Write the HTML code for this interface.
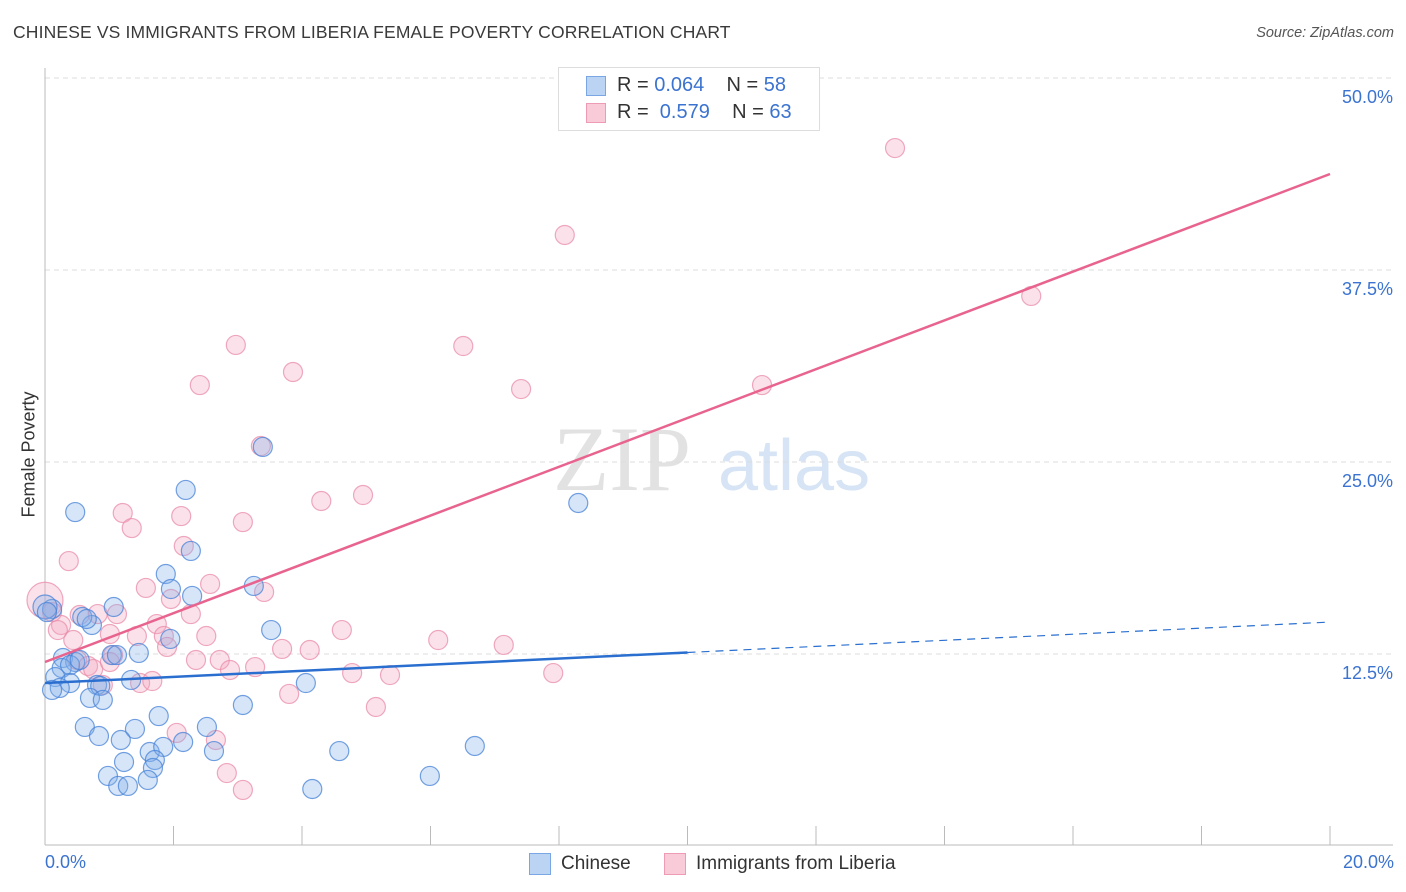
<!DOCTYPE html>
<html><head><meta charset="utf-8"><style>
body{margin:0;background:#fff;font-family:"Liberation Sans",sans-serif;}
#wrap{position:relative;width:1406px;height:892px;overflow:hidden;}
.t{position:absolute;white-space:nowrap;}
</style></head><body>
<div id="wrap">
<div class="t" style="left:13px;top:22px;font-size:17.5px;color:#3a3a3a;letter-spacing:0.15px;">CHINESE VS IMMIGRANTS FROM LIBERIA FEMALE POVERTY CORRELATION CHART</div>
<div class="t" style="right:12px;top:25px;font-size:14.5px;color:#555;font-style:italic;">Source: ZipAtlas.com</div>
<svg id="svg" width="1406" height="892" style="position:absolute;left:0;top:0"></svg>
<div style="position:absolute;left:558px;top:67px;width:260px;height:62px;border:1px solid #ddd;background:#fff;">
 <div style="position:absolute;left:27px;top:8px;width:20px;height:20px;background:#bcd4f4;border:1px solid #7aa6e4;box-sizing:border-box"></div>
 <div style="position:absolute;left:27px;top:35px;width:20px;height:20px;background:#f9cad8;border:1px solid #ee9bb5;box-sizing:border-box"></div>
 <div class="t" style="left:58px;top:6px;font-size:20px;color:#333">R = <span style="color:#3b73d0">0.064</span>&nbsp;&nbsp;&nbsp; N = <span style="color:#3b73d0">58</span></div>
 <div class="t" style="left:58px;top:33px;font-size:20px;color:#333">R = &nbsp;<span style="color:#3b73d0">0.579</span>&nbsp;&nbsp;&nbsp; N = <span style="color:#3b73d0">63</span></div>
</div>
<div class="t" style="left:-34px;top:444px;font-size:18px;color:#333;transform:rotate(-90deg);">Female Poverty</div>
<div class="t" style="left:45px;top:852px;font-size:18px;color:#3b73d0">0.0%</div>
<div class="t" style="right:12px;top:852px;font-size:18px;color:#3b73d0">20.0%</div>
<div style="position:absolute;left:529px;top:853px;width:22px;height:22px;background:#bcd4f4;border:1px solid #7aa6e4;box-sizing:border-box"></div>
<div class="t" style="left:561px;top:853px;font-size:19px;color:#333">Chinese</div>
<div style="position:absolute;left:664px;top:853px;width:22px;height:22px;background:#f9cad8;border:1px solid #ee9bb5;box-sizing:border-box"></div>
<div class="t" style="left:696px;top:853px;font-size:19px;color:#333">Immigrants from Liberia</div>
</div>
<script>
const yTicks=[12.5,25,37.5,50];
const yTickLabels=["12.5%","25.0%","37.5%","50.0%"];
const chineseX=[0.47,2.19,2.27,1.88,1.96,2.29,3.25,3.39,8.30,1.07,0.73,0.58,0.11,0.28,0.47,0.26,0.39,0.16,0.39,0.23,0.11,0.54,1.04,1.12,1.46,1.95,3.52,0.81,0.86,1.34,0.70,0.90,3.08,4.06,1.77,0.62,0.84,1.40,1.18,2.52,1.63,1.84,2.15,2.63,1.71,1.68,1.23,0.98,1.60,1.14,1.29,4.16,4.58,5.99,6.69,0,0.03,0.65];
const chineseY=[21.74,23.18,19.21,17.71,16.73,16.28,16.93,25.98,22.33,15.56,14.39,14.91,15.43,12.24,11.98,11.59,11.78,11.00,10.61,10.29,10.16,12.11,12.43,12.43,12.57,13.48,14.06,10.48,10.42,10.81,9.64,9.51,9.18,10.61,8.46,7.75,7.16,7.62,6.90,7.75,6.12,6.45,6.77,6.18,5.60,5.08,5.47,4.56,4.30,3.91,3.91,3.71,6.18,4.56,6.51,15.56,15.23,14.78];
const liberiaX=[13.23,8.09,15.35,6.51,2.97,3.86,7.41,11.16,2.41,3.36,4.95,4.30,3.08,2.12,1.21,1.35,0.37,2.16,2.57,1.57,1.96,3.41,0,0.11,0.54,0.82,1.12,2.27,1.74,0.25,0.20,1.01,1.43,1.85,2.51,4.62,6.12,7.14,0.44,1.90,3.69,4.12,0.50,0.67,1.06,2.35,2.72,3.27,2.88,4.78,5.37,7.91,0.75,0.90,1.48,1.67,3.80,5.15,2.05,2.66,2.83,3.08,1.01];
const liberiaY=[45.44,39.78,35.81,32.55,32.62,30.86,29.75,30.01,30.01,26.04,22.85,22.46,21.09,21.48,21.68,20.70,18.55,19.53,17.06,16.80,16.08,16.54,16.0,15.23,15.04,15.10,15.10,15.10,14.45,14.39,14.06,13.80,13.67,13.67,13.67,14.06,13.41,13.09,13.41,12.96,12.83,12.76,12.11,11.72,12.43,12.11,12.11,11.65,11.46,11.26,11.13,11.26,11.52,10.48,10.61,10.74,9.90,9.05,7.36,6.90,4.75,3.65,11.98];
const chineseTrend=[10.61,12.6,14.58]; // at x=0,10,20
const liberiaTrend=[11.98,43.75]; // at x=0,20

const X0=45,X1=1330,Y0=846,YPX=192/12.5;
const sx=v=>X0+v/20*(X1-X0);
const sy=v=>Y0-v*YPX;
const svg=document.getElementById('svg');
const NS='http://www.w3.org/2000/svg';
function mk(tag,attrs){const e=document.createElementNS(NS,tag);for(const k in attrs)e.setAttribute(k,attrs[k]);svg.appendChild(e);return e;}

let w=mk('text',{x:553,y:490,'font-size':92,'font-family':'Liberation Serif, serif',fill:'#e2e2e2'});w.textContent='ZIP';


w=mk('text',{x:718,y:490,'font-size':72,'font-family':'Liberation Sans, sans-serif',fill:'#d6e4f5'});w.textContent='atlas';



yTicks.forEach((t,i)=>{
  const g=mk('line',{x1:X0,x2:1393,y1:sy(t),y2:sy(t),stroke:'#ddd','stroke-dasharray':'5,4'});
  
  
  const l=mk('text',{x:1393,y:sy(t)+25,'text-anchor':'end','font-size':18,fill:'#3b73d0','font-family':'Liberation Sans, sans-serif'});
  l.textContent=yTickLabels[i];
  
  
});
let a=mk('line',{x1:X0,x2:X0,y1:68,y2:845,stroke:'#bbb'});


a=mk('line',{x1:X0,x2:1393,y1:845,y2:845,stroke:'#bbb'});


for(let v=2;v<=20;v+=2){
  const tk=mk('line',{x1:sx(v),x2:sx(v),y1:826,y2:845,stroke:'#bbb'});
  
  
}
function pts(xs,ys,fill,stroke,name){
  xs.forEach((x,i)=>{
    let r=9.5;
    if(x===0&&name==='liberia-point')r=18;
    if(x===0&&name==='chinese-point')r=12;
    const c=mk('circle',{cx:sx(x),cy:sy(ys[i]),r:r,fill:fill,stroke:stroke,'stroke-width':1.2});
    
    
  });
}
pts(liberiaX,liberiaY,'rgba(244,168,192,0.33)','rgba(234,140,170,0.75)','liberia-point');
pts(chineseX,chineseY,'rgba(130,175,235,0.33)','rgba(70,130,215,0.75)','chinese-point');
let ln=mk('line',{x1:sx(0),y1:sy(liberiaTrend[0]),x2:sx(20),y2:sy(liberiaTrend[1]),stroke:'#e8648f','stroke-width':2.5});


ln=mk('line',{x1:sx(0),y1:sy(chineseTrend[0]),x2:sx(10),y2:sy(chineseTrend[1]),stroke:'#2a6fd0','stroke-width':2.5});


ln=mk('line',{x1:sx(10),y1:sy(chineseTrend[1]),x2:sx(20),y2:sy(chineseTrend[2]),stroke:'#2a6fd0','stroke-width':1.2,'stroke-dasharray':'8,6'});


</script>
</body></html>
